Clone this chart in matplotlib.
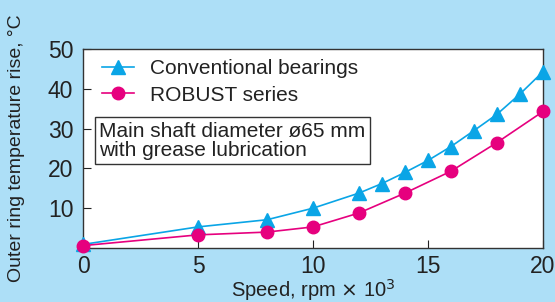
import matplotlib
matplotlib.use("Agg")
import matplotlib.pyplot as plt

plt.rcParams['font.family'] = ['Liberation Sans', 'DejaVu Sans']

conv_x = [0, 5, 8, 10, 12, 13, 14, 15, 16, 17, 18, 19, 20]
conv_y = [0.9, 5.3, 7.1, 10.0, 13.8, 16.2, 19.0, 22.0, 25.5, 29.5, 33.6, 38.7, 44.3]
rob_x = [0, 5, 8, 10, 12, 14, 16, 18, 20]
rob_y = [0.6, 3.3, 4.0, 5.3, 8.8, 13.8, 19.3, 26.5, 34.3]

bg = '#addff7'
cyan = '#0aa5e6'
mag = '#e6007e'

fig = plt.figure(figsize=(5.55, 3.02), dpi=100, facecolor=bg)
ax = fig.add_axes([83/555, 1 - 248/302, 460/555, 199/302])
ax.set_facecolor('white')

ax.plot(conv_x, conv_y, color=cyan, marker='^', markersize=10, lw=1.2,
        label='Conventional bearings', clip_on=False, zorder=3)
ax.plot(rob_x, rob_y, color=mag, marker='o', markersize=9, lw=1.2,
        label='ROBUST series', clip_on=False, zorder=4)

ax.set_xlim(0, 20)
ax.set_ylim(0, 50)
ax.set_xticks([0, 5, 10, 15, 20])
ax.set_yticks([10, 20, 30, 40, 50])
ax.tick_params(direction='in', length=6, width=0.8, labelsize=16.5, colors='#222222')
ax.tick_params(axis='y', pad=7)
ax.tick_params(axis='x', pad=5)
for s in ax.spines.values():
    s.set_color('#333333')
    s.set_linewidth(1.0)

ax.set_xlabel('Speed, rpm $\\times$ 10$^3$', fontsize=14.5, color='#222222')
ax.set_ylabel('Outer ring temperature rise, °C', fontsize=14, color='#222222')
ax.yaxis.set_label_coords(-0.126, 0.5)
ax.xaxis.set_label_coords(0.5, -0.145)

leg = ax.legend(loc='upper left', frameon=False, fontsize=15, handlelength=1.5,
                borderaxespad=0.0, labelspacing=0.35, handletextpad=0.8,
                bbox_to_anchor=(0.024, 0.99))
for t in leg.get_texts():
    t.set_color('#222222')

ax.text(0.035, 0.538, 'Main shaft diameter \u00f865 mm\nwith grease lubrication',
        transform=ax.transAxes, fontsize=15, color='#222222', va='center', ha='left',
        linespacing=1.05,
        bbox=dict(boxstyle='square,pad=0.2', facecolor='white', edgecolor='#333333', lw=1.0))

fig.savefig('out.png', dpi=100, facecolor=bg)
